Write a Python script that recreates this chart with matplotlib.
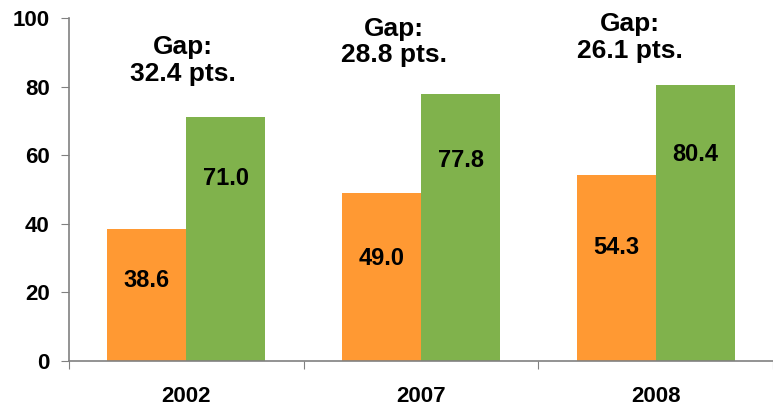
import matplotlib
matplotlib.use("Agg")
import matplotlib.pyplot as plt
import numpy as np

plt.rcParams['font.family'] = ['Liberation Sans', 'DejaVu Sans']
plt.rcParams['font.weight'] = 'bold'

years = ["2002", "2007", "2008"]
series_a = [38.6, 49.0, 54.3]
series_b = [71.0, 77.8, 80.4]
gap_labels = ["Gap:\n32.4 pts.", "Gap:\n28.8 pts.", "Gap:\n26.1 pts."]

orange = "#FF9933"
green = "#80B24C"
axcol = "#808080"

fig = plt.figure(figsize=(7.73, 4.07), dpi=100)
ax = fig.add_axes([0.0893, 0.113, 0.9107, 0.843])

x = np.arange(len(years))
w = 0.337
ax.bar(x - w / 2, series_a, width=w, color=orange, zorder=2)
ax.bar(x + w / 2, series_b, width=w, color=green, zorder=2)

for i in range(len(years)):
    ax.text(x[i] - w / 2, series_a[i] * 0.61, f"{series_a[i]:.1f}", ha='center', va='center',
            fontsize=17, fontweight='bold', color='black')
    ax.text(x[i] + w / 2, series_b[i] * 0.75, f"{series_b[i]:.1f}", ha='center', va='center',
            fontsize=17, fontweight='bold', color='black')

gap_pos = [(-0.015, 87.5), (0.885, 93.0), (1.89, 94.2)]
for (gx, gy), lab in zip(gap_pos, gap_labels):
    ax.text(gx, gy, lab, ha='center', va='center', fontsize=19, fontweight='bold',
            linespacing=1.15)

ax.set_xlim(-0.5, 2.5)
ax.set_ylim(0, 100)
ax.set_yticks([0, 20, 40, 60, 80, 100])
ax.set_xticks([-0.5, 0.5, 1.5, 2.5])
ax.set_xticklabels([])
ax.set_xticks(x, minor=True)
ax.set_xticklabels(years, minor=True)
ax.tick_params(axis='x', which='minor', length=0, pad=18, labelsize=16)
ax.tick_params(axis='x', which='major', length=6, direction='out', color=axcol)
ax.tick_params(axis='y', length=6, direction='out', color=axcol, labelsize=16, pad=8)
for lab in ax.get_yticklabels() + ax.get_xticklabels(minor=True):
    lab.set_fontweight('bold')

for s in ['top', 'right']:
    ax.spines[s].set_visible(False)
for s in ['left', 'bottom']:
    ax.spines[s].set_color(axcol)
    ax.spines[s].set_linewidth(1.2)
ax.spines['bottom'].set_zorder(3)

fig.savefig("out.png", dpi=100)
